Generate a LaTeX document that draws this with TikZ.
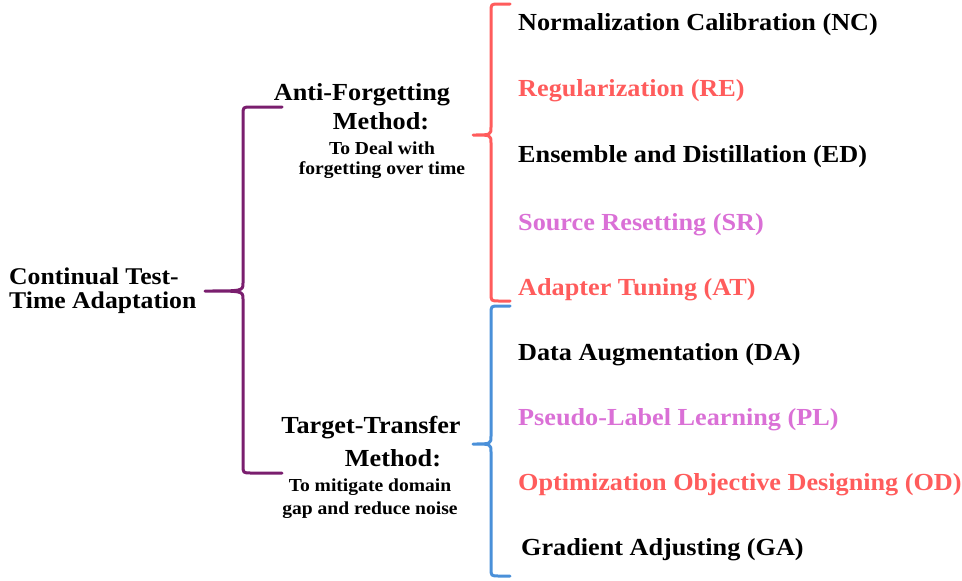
\documentclass[tikz,border=0pt]{standalone}
\usepackage{fontspec}
\setmainfont[FakeStretch=1.07]{Liberation Serif}
\definecolor{itemred}{RGB}{255,92,92}
\definecolor{itempink}{RGB}{218,112,214}
\definecolor{bracepurple}{RGB}{122,30,110}
\definecolor{bracered}{RGB}{255,92,92}
\definecolor{braceblue}{RGB}{74,144,217}
\tikzset{
  item/.style={anchor=base west, inner sep=0pt, font=\bfseries\fontsize{24.5}{27}\selectfont},
  rootlbl/.style={anchor=base west, inner sep=0pt, font=\bfseries\fontsize{24}{27}\selectfont},
  methodlbl/.style={anchor=base, inner sep=0pt, font=\bfseries\fontsize{24.5}{27}\selectfont},
  notelbl/.style={anchor=base, inner sep=0pt, font=\bfseries\fontsize{18.3}{20}\selectfont},
  bracepath/.style={line width=3pt, line cap=round, line join=round},
}
% curly brace: arms end at x=#1 (top y=#2, bottom y=#3), spine at x=#4, tip at (#5,#6)
\newcommand{\curlybrace}[7]{%
  \draw[bracepath,#7] (#1,#2) -- ({#4+8},#2) .. controls (#4,#2) .. (#4,{#2+8})
    -- (#4,{#6-8}) .. controls (#4,#6) .. (#5,#6)
    .. controls (#4,#6) .. (#4,{#6+8}) -- (#4,{#3-8})
    .. controls (#4,#3) .. ({#4+8},#3) -- (#1,#3);}
\begin{document}
\begin{tikzpicture}[x=1pt,y=-1pt]
\useasboundingbox (0,0) rectangle (962,581);

% root label
\node[rootlbl] (root1) at (9,284) {Continual Test-};
\node[rootlbl] (root2) at (9,308) {Time Adaptation};

% first branch
\node[methodlbl] (af1) at (362,100) {Anti-Forgetting};
\node[methodlbl] (af2) at (381,129) {Method:};
\node[notelbl] (af3) at (382,154) {To Deal with};
\node[notelbl] (af4) at (382,174) {forgetting over time};

% second branch
\node[methodlbl] (tt1) at (371,433) {Target-Transfer};
\node[methodlbl] (tt2) at (393,466) {Method:};
\node[notelbl] (tt3) at (370,491) {To mitigate domain};
\node[notelbl] (tt4) at (370,514) {gap and reduce noise};

% leaves
\node[item] (nc) at (518,30.7) {Normalization Calibration (NC)};
\node[item, text=itemred] (re) at (518,96.7) {Regularization (RE)};
\node[item] (ed) at (518,162.5) {Ensemble and Distillation (ED)};
\node[item, text=itempink] (sr) at (518,230.5) {Source Resetting (SR)};
\node[item, text=itemred] (at) at (518,295) {Adapter Tuning (AT)};
\node[item] (da) at (518,360) {Data Augmentation (DA)};
\node[item, text=itempink] (pl) at (518,425) {Pseudo-Label Learning (PL)};
\node[item, text=itemred] (od) at (518,490) {Optimization Objective Designing (OD)};
\node[item] (ga) at (521,555) {Gradient Adjusting (GA)};

% braces
\curlybrace{282}{107}{473}{243}{205}{291}{draw=bracepurple}
\curlybrace{510}{4}{301}{491}{473}{135}{draw=bracered}
\curlybrace{510}{306}{576}{491}{473}{444}{draw=braceblue}
\end{tikzpicture}
\end{document}
